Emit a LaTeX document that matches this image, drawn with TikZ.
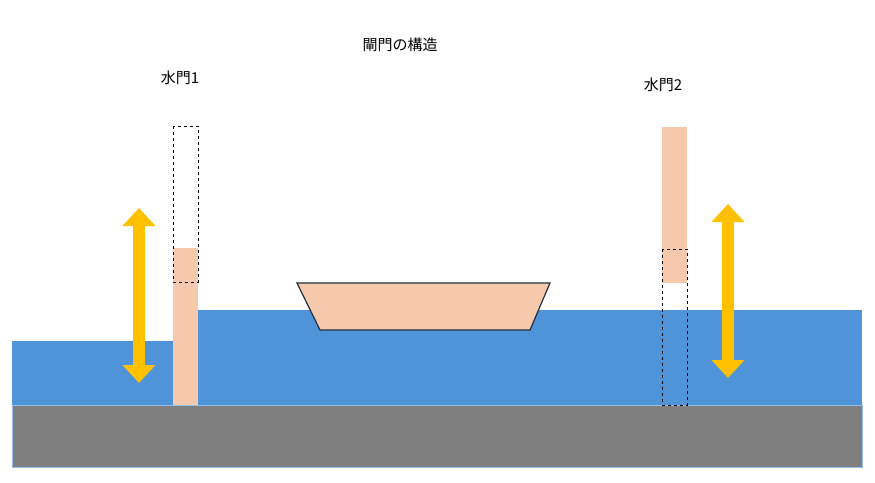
\documentclass[tikz,border=0pt]{standalone}
\usepackage{fontspec}
\newfontfamily\jpfont{Noto Sans CJK JP}
\usetikzlibrary{positioning, arrows.meta}
\definecolor{water}{HTML}{4F94D8}
\definecolor{gatepink}{HTML}{F6C8AC}
\definecolor{arrowgold}{HTML}{FFC000}
\definecolor{ground}{HTML}{7F7F7F}
\definecolor{boatline}{HTML}{1F2F40}

\begin{document}
\begin{tikzpicture}[x=1pt, y=-1pt, >=Stealth,
      label/.style={font=\jpfont\fontsize{15}{18}\selectfont, inner sep=0pt},
      gate/.style={fill=gatepink, draw=none},
      slot/.style={draw=black, dashed, line width=0.9pt},
      move/.style={{Triangle[length=18pt,width=32pt]}-{Triangle[length=18pt,width=32pt]}, draw=arrowgold, line width=12pt, fill=arrowgold}]
    \useasboundingbox (0,0) rectangle (875,482);

    % water and ground
    \fill[water] (12,341) rectangle (173,405);
    \fill[water] (173,310) rectangle (862,405);
    \fill[ground, draw=water!60] (12,405) rectangle (862,467);

    % titles
    \node[label] (title) at (400,45) {閘門の構造};
    \node[label] (name1) at (180,78) {水門1};
    \node[label] (name2) at (663,85) {水門2};

    % gate 1 (lowered)
    \fill[gate] (173,248) rectangle (198,405);
    \draw[slot] (173,126) rectangle (198,282);
    \coordinate (up1) at (139,208);
    \coordinate (down1) at (139,383);
    \draw[move] (up1) -- (down1);

    % gate 2 (raised)
    \fill[gate] (662,127) rectangle (687,283);
    \draw[slot] (662,249) rectangle (687,405);
    \coordinate (up2) at (728,204);
    \coordinate (down2) at (728,378);
    \draw[move] (up2) -- (down2);

    % boat
    \draw[fill=gatepink, draw=boatline, line width=1.2pt] (297,283) -- (550,283) -- (530,330) -- (320,330) -- cycle;
  \end{tikzpicture}
\end{document}
